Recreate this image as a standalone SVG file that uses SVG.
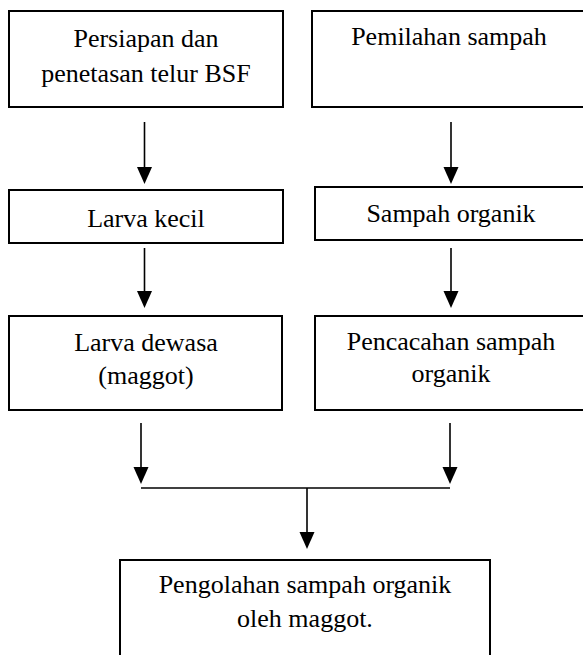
<svg xmlns="http://www.w3.org/2000/svg" width="583" height="655" viewBox="0 0 583 655">
<style>
.box{fill:#fff;stroke:#000;stroke-width:2}
.t{font-family:'Liberation Serif','DejaVu Serif',serif;font-size:26px;fill:#000;text-anchor:middle}
.c{stroke:#000;stroke-width:1.6;fill:none}
.h{fill:#000;stroke:none}
</style>
<rect width="583" height="655" fill="#fff"/>
<g id="node-persiapan">
<rect class="box" x="9" y="11" width="274" height="96"/>
<text class="t" x="146" y="47">Persiapan dan</text>
<text class="t" x="146" y="82">penetasan telur BSF</text>
</g>
<g id="node-pemilahan">
<rect class="box" x="312" y="11" width="276" height="96"/>
<text class="t" x="449" y="45">Pemilahan sampah</text>
</g>
<g id="node-larva-kecil">
<rect class="box" x="9" y="190" width="274" height="53"/>
<text class="t" x="146" y="227">Larva kecil</text>
</g>
<g id="node-sampah-organik">
<rect class="box" x="315" y="187" width="273" height="53"/>
<text class="t" x="451" y="222">Sampah organik</text>
</g>
<g id="node-larva-dewasa">
<rect class="box" x="9" y="316" width="273" height="94"/>
<text class="t" x="146" y="351">Larva dewasa</text>
<text class="t" x="146" y="384">(maggot)</text>
</g>
<g id="node-pencacahan">
<rect class="box" x="315" y="316" width="273" height="94"/>
<text class="t" x="451" y="350">Pencacahan sampah</text>
<text class="t" x="451" y="382">organik</text>
</g>
<g id="node-pengolahan">
<rect class="box" x="120" y="560" width="370" height="110"/>
<text class="t" x="305" y="593">Pengolahan sampah organik</text>
<text class="t" x="305" y="627">oleh maggot.</text>
</g>
<g id="connectors">
<line class="c" x1="144.5" y1="122" x2="144.5" y2="168"/>
<polygon class="h" points="137,167 152,167 144.5,184"/>
<line class="c" x1="451" y1="122" x2="451" y2="168"/>
<polygon class="h" points="443.5,167 458.5,167 451,184"/>
<line class="c" x1="144.5" y1="248" x2="144.5" y2="292"/>
<polygon class="h" points="137,291 152,291 144.5,308"/>
<line class="c" x1="451" y1="248" x2="451" y2="292"/>
<polygon class="h" points="443.5,291 458.5,291 451,308"/>
<line class="c" x1="141" y1="423" x2="141" y2="468"/>
<polygon class="h" points="133.5,467 148.5,467 141,484"/>
<line class="c" x1="450" y1="423" x2="450" y2="468"/>
<polygon class="h" points="442.5,467 457.5,467 450,484"/>
<line class="c" x1="141" y1="488" x2="450" y2="488"/>
<line class="c" x1="307" y1="488" x2="307" y2="533"/>
<polygon class="h" points="299.5,532 314.5,532 307,549"/>
</g>
</svg>
